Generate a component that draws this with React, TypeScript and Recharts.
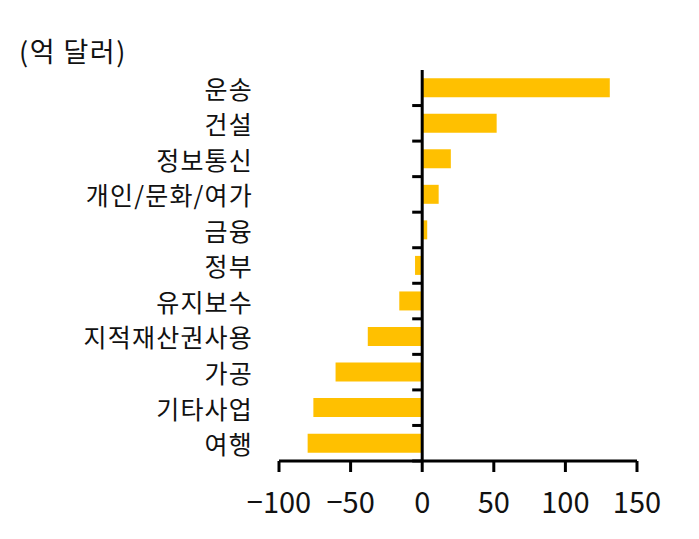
import { BarChart, Bar, XAxis, YAxis, ReferenceLine } from "recharts";

// 억 달러, 서비스 수지 항목별
const categories = [
  "운송",
  "건설",
  "정보통신",
  "개인/문화/여가",
  "금융",
  "정부",
  "유지보수",
  "지적재산권사용",
  "가공",
  "기타사업",
  "여행",
];
const values = [131, 52, 20, 11.5, 3.5, -5, -16, -38, -60.5, -76, -80];
const xTicks = [-100, -50, 0, 50, 100, 150];

const FONT = "'Noto Sans CJK KR', 'Noto Sans', sans-serif";
const BAR_COLOR = "#FFC000";

const data = categories.map((name, i) => ({ name, value: values[i] }));

// 0 위치의 세로 축선 + 구간 경계 눈금
function ZeroAxis(props: any) {
  const { x1, y1, y2 } = props;
  const band = (y2 - y1) / categories.length;
  const marks = categories.map((_, i) => y1 + i * band);
  return (
    <g>
      <line x1={x1} x2={x1} y1={y1} y2={y2} stroke="#000" strokeWidth={3} />
      {marks.map((y, i) => (
        <line key={i} x1={x1 - 10} x2={x1} y1={y} y2={y} stroke="#000" strokeWidth={3} />
      ))}
    </g>
  );
}

export default function App() {
  return (
    <div style={{ position: "absolute", left: 0, top: 0, width: 699, height: 539, background: "#fff" }}>
      <div
        style={{
          position: "absolute",
          left: 19,
          top: 33,
          fontFamily: FONT,
          fontSize: 27,
          letterSpacing: 1.5,
          color: "#111",
          lineHeight: "36px",
        }}
      >
        (억 달러)
      </div>
      <BarChart
        width={699}
        height={539}
        data={data}
        layout="vertical"
        barCategoryGap="23%"
        margin={{ top: 70, right: 62, bottom: 0, left: 0 }}
      >
        <XAxis
          type="number"
          domain={[-100, 150]}
          ticks={xTicks}
          interval={0}
          height={78}
          axisLine={{ stroke: "#000", strokeWidth: 3 }}
          tickLine={{ stroke: "#000", strokeWidth: 3 }}
          tickSize={11}
          tickMargin={20}
          tickFormatter={(v: number) => (v < 0 ? "\u2212" + Math.abs(v) : String(v))}
          tick={{ fill: "#111", fontSize: 29, fontFamily: FONT }}
        />
        <YAxis
          type="category"
          dataKey="name"
          width={279}
          interval={0}
          axisLine={false}
          tickLine={false}
          tickSize={0}
          tickMargin={26}
          tick={{ fill: "#111", fontSize: 25, fontFamily: FONT, letterSpacing: 1.2, dy: 2 }}
        />
        <Bar dataKey="value" fill={BAR_COLOR} isAnimationActive={false} />
        <ReferenceLine x={0} stroke="#000" strokeWidth={3} shape={ZeroAxis} />
      </BarChart>
    </div>
  );
}
